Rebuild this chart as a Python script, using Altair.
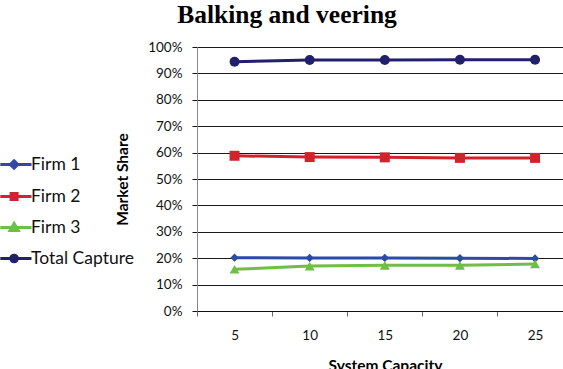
import altair as alt
import pandas as pd

capacity = [5, 10, 15, 20, 25]
series_names = ["Firm 1", "Firm 2", "Firm 3", "Total Capture"]
firm1 = [0.202, 0.201, 0.201, 0.200, 0.199]
firm2 = [0.588, 0.583, 0.582, 0.580, 0.580]
firm3 = [0.158, 0.170, 0.173, 0.173, 0.178]
total = [0.944, 0.951, 0.951, 0.952, 0.952]
y_ticks = [i / 10 for i in range(11)]
x_ticks = [2.5, 5, 7.5, 10, 12.5, 15, 17.5, 20, 22.5, 25]

colors = ["#2B4BA6", "#D1232B", "#6EBF44", "#22206C"]
marker_style = {
    "Firm 1": ("diamond", 70),
    "Firm 2": ("square", 100),
    "Firm 3": ("triangle-up", 100),
    "Total Capture": ("circle", 100),
}

rows = []
for name, vals in zip(series_names, [firm1, firm2, firm3, total]):
    for c, v in zip(capacity, vals):
        rows.append({"capacity": c, "series": name, "share": v})
df = pd.DataFrame(rows)
df["marker"] = df["series"].map(lambda s: marker_style[s][0])
df["msize"] = df["series"].map(lambda s: marker_style[s][1])

legend_paths = {
    "Firm 1": "M-1.35,0H1.25M-0.2,-0.31L0.11,0L-0.2,0.31L-0.51,0Z",
    "Firm 2": "M-1.35,0H1.25M-0.45,-0.25H0.05V0.25H-0.45Z",
    "Firm 3": "M-1.35,0H1.25M-0.2,-0.34L0.14,0.25H-0.54Z",
    "Total Capture": "M-1.35,0H1.25M-0.475,0A0.275,0.275,0,1,0,0.075,0A0.275,0.275,0,1,0,-0.475,0Z",
}
shape_expr = (
    f"datum.value === 'Firm 1' ? '{legend_paths['Firm 1']}' : "
    f"datum.value === 'Firm 2' ? '{legend_paths['Firm 2']}' : "
    f"datum.value === 'Firm 3' ? '{legend_paths['Firm 3']}' : "
    f"'{legend_paths['Total Capture']}'"
)

legend = alt.Legend(
    title=None,
    orient="none",
    legendX=-194,
    legendY=104,
    symbolSize=576,
    symbolType=alt.ExprRef(shape_expr),
    symbolFillColor=alt.ExprRef("scale('color', datum.value)"),
    symbolStrokeColor=alt.ExprRef("scale('color', datum.value)"),
    symbolStrokeWidth=3,
    symbolOpacity=1,
    rowPadding=8,
    padding=0,
    labelOffset=1,
    labelFont="Lato",
    labelFontSize=17.5,
    labelColor="#111111",
    labelLimit=300,
)

color = alt.Color(
    "series:N",
    scale=alt.Scale(domain=series_names, range=colors),
    legend=legend,
)

x = alt.X(
    "capacity:Q",
    scale=alt.Scale(domain=[2.5, 26.86], nice=False, zero=False),
    axis=alt.Axis(
        title="System Capacity",
        values=x_ticks,
        labelExpr="datum.value % 5 === 0 ? datum.label : ''",
        tickOpacity={"condition": {"test": "datum.value % 5 === 0", "value": 0}, "value": 1},
        grid=False,
        labelOverlap=False,
        labelFlush=False,
        tickSize=5,
        tickColor="#666666",
        domainColor="#111111",
        labelPadding=12,
        labelFont="Lato",
        labelFontSize=13.5,
        labelColor="#111111",
        titleFont="Lato",
        titleFontSize=15.5,
        titleFontWeight="bold",
        titleColor="#000000",
        titlePadding=17,
        titleX=188,
    ),
)

y = alt.Y(
    "share:Q",
    scale=alt.Scale(domain=[0, 1], nice=False),
    axis=alt.Axis(
        title="Market Share",
        values=y_ticks,
        format=".0%",
        grid=True,
        gridColor="#1a1a1a",
        gridWidth=1,
        domainColor="#888888",
        tickColor="#111111",
        tickSize=5,
        labelPadding=10,
        labelFlush=False,
        labelFont="Lato",
        labelFontSize=13.5,
        labelColor="#111111",
        titleFont="Lato",
        titleFontSize=15.5,
        titleFontWeight="bold",
        titleColor="#000000",
        titlePadding=17,
    ),
)

lines = alt.Chart(df).mark_line(strokeWidth=3).encode(
    x=x, y=y, color=color, detail="series:N"
)
points = alt.Chart(df).mark_point(filled=True, opacity=1).encode(
    x=x,
    y=y,
    color=color,
    shape=alt.Shape("marker:N", scale=None),
    size=alt.Size("msize:Q", scale=None),
)

chart = (
    alt.layer(lines, points)
    .properties(
        width=366,
        height=264,
        autosize=alt.AutoSizeParams(type="none"),
        padding={"left": 197, "top": 47, "right": 0, "bottom": 58},
        background="white",
        title=alt.Title(
            "Balking and veering",
            font="Liberation Serif",
            fontSize=25.5,
            fontWeight="bold",
            color="#000000",
            anchor="middle",
            dx=-93,
            dy=28,
            baseline="alphabetic",
            offset=20,
        ),
    )
    .configure_view(strokeWidth=0)
)

chart.save("out.html", embed_options={"renderer": "svg", "actions": False})
